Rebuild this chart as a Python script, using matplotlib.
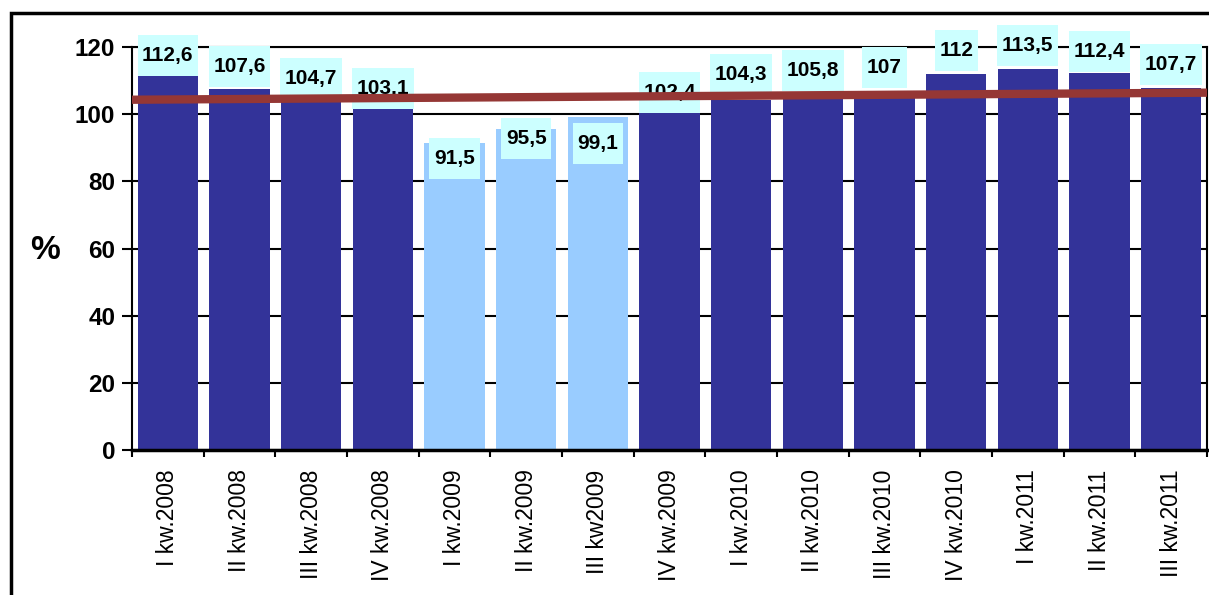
#!/usr/bin/env python3

"""
Quarterly index (%) bar chart with trend line
"""

import numpy as np
import matplotlib
matplotlib.use("Agg")
import matplotlib.pyplot as plt
from matplotlib.patches import Rectangle

plt.rcParams['font.family'] = ['Liberation Sans', 'DejaVu Sans']

quarters = ["I kw.2008", "II kw.2008", "III kw.2008", "IV kw.2008",
            "I kw.2009", "II kw.2009", "III kw2009", "IV kw.2009",
            "I kw.2010", "II kw.2010", "III kw.2010", "IV kw.2010",
            "I kw.2011", "II kw.2011", "III kw.2011"]
values = [112.6, 107.6, 104.7, 103.1, 91.5, 95.5, 99.1, 102.4,
          104.3, 105.8, 107, 112, 113.5, 112.4, 107.7]
value_text = ["112,6", "107,6", "104,7", "103,1", "91,5", "95,5", "99,1", "102,4",
              "104,3", "105,8", "107", "112", "113,5", "112,4", "107,7"]
crisis = [False, False, False, False, True, True, True, False,
          False, False, False, False, False, False, False]
# trend line values at left and right edge of the plot
trend = [104.3, 106.4]

# label placement, offset from bar top in data units
label_offset = [5.0, 6.7, 5.8, 4.4, -4.6, -2.8, -7.9, 4.1,
                7.4, 7.1, 7.0, 6.9, 6.9, 6.3, 7.1]

DARK = "#333399"
LIGHT = "#99CCFF"
BOX = "#CCFFFF"
TREND = "#953735"


def plot_bars(ax):
  xs = np.arange(len(values))
  colors = [LIGHT if c else DARK for c in crisis]
  ax.bar(xs, values, width=0.84, color=colors, zorder=2)
  for x, v, t, off in zip(xs, values, value_text, label_offset):
    ax.text(x, v + off, t, ha="center", va="center", fontsize=15,
            fontweight="bold", zorder=3,
            bbox=dict(boxstyle="square,pad=0.22", fc=BOX, ec="none",
                      mutation_aspect=2.4))


def plot_trend(ax):
  n = len(values)
  ax.plot([-0.5, n - 0.5], trend, color=TREND, lw=6, zorder=4,
          solid_capstyle="butt")


if __name__ == "__main__":

  fig = plt.figure(figsize=(12.09, 5.95), dpi=100)
  ax = fig.add_axes([132 / 1209, 1 - 450 / 595, (1207 - 132) / 1209, (450 - 47) / 595])

  plot_bars(ax)
  plot_trend(ax)

  n = len(values)
  ax.set_xlim(-0.5, n - 0.5)
  ax.set_ylim(0, 120)
  ax.set_yticks(range(0, 121, 20))
  ax.yaxis.grid(True, color="black", lw=1.5, zorder=1)
  ax.set_axisbelow(True)
  for lbl in ax.get_yticklabels():
    lbl.set_fontweight("bold")
  ax.tick_params(axis="y", labelsize=17.5, length=7, width=1.5, pad=5)

  ax.set_xticks(np.arange(n))
  ax.set_xticklabels(quarters, rotation=90, fontsize=16.5)
  ax.tick_params(axis="x", length=0, pad=14)
  ax.set_xticks(np.arange(n + 1) - 0.5, minor=True)
  ax.tick_params(axis="x", which="minor", length=5, width=1.5)

  for s in ["left", "right", "top"]:
    ax.spines[s].set_linewidth(1.5)
  ax.spines["bottom"].set_linewidth(2.5)
  ax.spines["bottom"].set_zorder(5)

  fig.text(45 / 1209, 1 - 250 / 595, "%", fontsize=24, fontweight="bold",
           ha="center", va="center")

  # outer chart frame
  fig.patches.append(Rectangle((11 / 1209, -0.05), 1.2, 1 - 13 / 595 + 0.05,
                               transform=fig.transFigure, fill=False,
                               ec="black", lw=2.5, zorder=0))

  fig.savefig("out.png", dpi=100)
